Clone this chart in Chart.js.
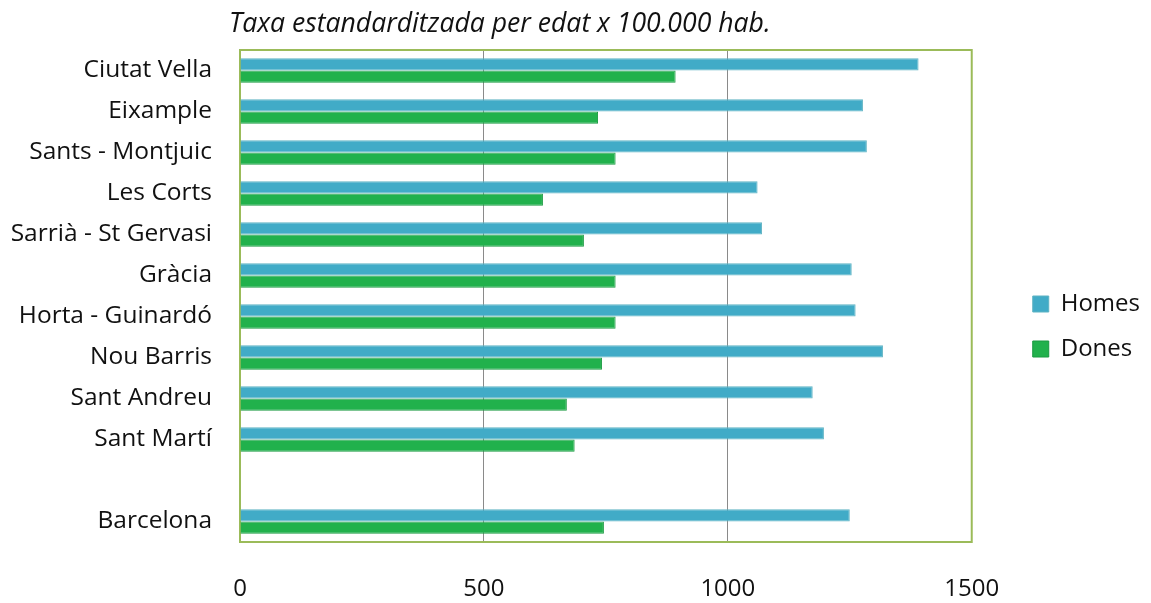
<!DOCTYPE html>
<html>
<head>
<meta charset="utf-8">
<script src="https://cdn.jsdelivr.net/npm/chart.js@4/dist/chart.umd.min.js"></script>
<style>
  html, body { margin: 0; padding: 0; background: #fff; }
  #wrap { width: 1151px; height: 603px; position: relative; }
</style>
</head>
<body>
<div id="wrap"><canvas id="myChart" width="1151" height="603"></canvas></div>
<script>
const districtes = ["Ciutat Vella", "Eixample", "Sants - Montjuic", "Les Corts", "Sarrià - St Gervasi",
    "Gràcia", "Horta - Guinardó", "Nou Barris", "Sant Andreu", "Sant Martí", "", "Barcelona"];
const homes = [1391, 1277, 1285, 1061, 1070, 1254, 1262, 1318, 1174, 1197, null, 1250];
const dones = [893, 734, 770, 621, 705, 770, 770, 742, 670, 686, null, 746];
const xTicks = [0, 500, 1000, 1500];

const FONT = "'Open Sans', sans-serif";

// green border round the plot area (top and right show; axes cover the rest)
const plotBorder = {
    id: "plotBorder",
    beforeDatasetsDraw(chart) {
        const { ctx, chartArea: a } = chart;
        ctx.save();
        ctx.strokeStyle = "#9bbb59";
        ctx.lineWidth = 2;
        ctx.strokeRect(a.left, a.top, a.right - a.left, a.bottom - a.top);
        ctx.restore();
    },
};

const subTitle = {
    id: "subTitle",
    afterDraw(chart) {
        const ctx = chart.ctx;
        ctx.save();
        ctx.font = "italic 26.6px " + FONT;
        ctx.fillStyle = "#111";
        ctx.textBaseline = "middle";
        ctx.fillText("Taxa estandarditzada per edat x 100.000 hab.", 229, 24);
        ctx.restore();
    },
};

// push the legend a bit further right, away from the plot
const legendShift = {
    id: "legendShift",
    afterLayout(chart) {
        const lg = chart.legend;
        const dx = chart.chartArea.right + 40 - lg.left;
        lg.left += dx;
        lg.right += dx;
        lg.legendHitBoxes.forEach(b => { b.left += dx; });
    },
};

new Chart(document.getElementById("myChart"), {
    type: "bar",
    data: {
        labels: districtes,
        datasets: [{
            label: "Homes",
            data: homes,
            backgroundColor: "#41abc7",
            borderColor: "#5fb3c3",
            borderWidth: 1,
        }, {
            label: "Dones",
            data: dones,
            backgroundColor: "#21b14c",
            borderColor: "#1a9a40",
            borderWidth: 1,
        }],
    },
    options: {
        indexAxis: "y",
        responsive: false,
        animation: false,
        categoryPercentage: 0.6,
        barPercentage: 1,
        layout: {
            padding: { top: 50, left: 0, right: 41, bottom: 0 },
        },
        scales: {
            x: {
                min: 0,
                max: 1500,
                afterBuildTicks(scale) {
                    scale.ticks = xTicks.map(v => ({ value: v }));
                },
                afterFit(scale) { scale.height = 61; },
                grid: {
                    drawTicks: false,
                    color: ctx => ctx.tick && ctx.tick.value === 1500 ? "rgba(0,0,0,0)" : "#8a8a8a",
                    lineWidth: 1,
                },
                border: { color: "#888", width: 2 },
                ticks: {
                    padding: 33,
                    color: "#111",
                    callback: v => String(v),
                    font: { family: FONT, size: 24 },
                },
            },
            y: {
                afterFit(scale) { scale.width = 240; },
                grid: { display: false, drawTicks: false },
                border: { color: "#888", width: 2 },
                ticks: {
                    padding: 28,
                    color: "#111",
                    autoSkip: false,
                    font: { family: FONT, size: 24.5 },
                },
            },
        },
        plugins: {
            legend: {
                position: "right",
                labels: {
                    boxWidth: 16,
                    boxHeight: 16,
                    padding: 21,
                    color: "#111",
                    font: { family: FONT, size: 24 },
                },
            },
            tooltip: { enabled: false },
        },
    },
    plugins: [plotBorder, subTitle, legendShift],
});
</script>
</body>
</html>
